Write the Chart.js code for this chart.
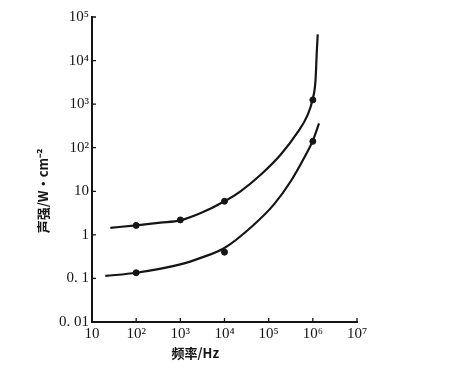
<!DOCTYPE html>
<html>
<head>
<meta charset="utf-8">
<script src="https://cdn.jsdelivr.net/npm/chart.js@4/dist/chart.umd.min.js"></script>
<style>
  html, body { margin: 0; padding: 0; background: #fff; }
  #wrap { width: 450px; height: 388px; }
</style>
</head>
<body>
<div id="wrap"><canvas id="chart"></canvas></div>
<script>
// axis ticks
const freqTicks = [10, 1e2, 1e3, 1e4, 1e5, 1e6, 1e7];
const freqTickLabels = ['10', '10²', '10³', '10⁴', '10⁵', '10⁶', '10⁷'];
const intensityTicks = [0.01, 0.1, 1, 10, 1e2, 1e3, 1e4, 1e5];
const intensityTickLabels = ['0. 01', '0. 1', '1', '10', '10²', '10³', '10⁴', '10⁵'];

// upper curve
const upperFreq = [26, 100, 355, 1000, 3000, 1e4, 2.3e4, 6.6e4, 1.86e5, 4.5e5, 7.6e5, 9.8e5, 1.15e6, 1.23e6, 1.29e6];
const upperValue = [1.45, 1.65, 1.9, 2.15, 3.2, 5.9, 10, 24, 69, 224, 560, 1250, 3500, 16000, 40000];
// lower curve
const lowerFreq = [20, 100, 1000, 3000, 1e4, 4.3e4, 1.32e5, 3.16e5, 6.6e5, 1e6, 1.38e6];
const lowerValue = [0.114, 0.135, 0.21, 0.3, 0.5, 1.6, 5, 17, 63, 145, 360];

// measured points
const upperPointFreq = [100, 1000, 1e4, 1e6];
const upperPointValue = [1.65, 2.2, 5.9, 1250];
const lowerPointFreq = [100, 1e4, 1e6];
const lowerPointValue = [0.135, 0.4, 140];

const toXY = (xs, ys) => xs.map((x, i) => ({x: x, y: ys[i]}));
const ink = '#151515';

// small ticks pointing into the plot
const inwardTicks = {
  id: 'inwardTicks',
  afterDraw(chart) {
    const {ctx, chartArea, scales} = chart;
    ctx.save();
    ctx.strokeStyle = ink;
    ctx.lineWidth = 1.3;
    ctx.beginPath();
    freqTicks.forEach(v => {
      const x = scales.x.getPixelForValue(v);
      ctx.moveTo(x, chartArea.bottom);
      ctx.lineTo(x, chartArea.bottom - 4);
    });
    intensityTicks.forEach(v => {
      const y = scales.y.getPixelForValue(v);
      ctx.moveTo(chartArea.left, y);
      ctx.lineTo(chartArea.left + 4, y);
    });
    ctx.stroke();
    ctx.restore();
  }
};

// axis titles, placed like the printed figure
const axisTitles = {
  id: 'axisTitles',
  afterDraw(chart) {
    const {ctx, chartArea} = chart;
    ctx.save();
    ctx.fillStyle = ink;
    ctx.textAlign = 'center';
    ctx.textBaseline = 'middle';
    ctx.font = 'bold 13px "Noto Sans CJK SC", "Liberation Serif", serif';
    ctx.fillText('频率/Hz', chartArea.left + chartArea.width * 0.39, chartArea.bottom + 31);
    ctx.translate(chartArea.left - 49, chartArea.top + chartArea.height * 0.57);
    ctx.rotate(-Math.PI / 2);
    ctx.fillText('声强/W·cm⁻²', 0, 0);
    ctx.restore();
  }
};

new Chart(document.getElementById('chart'), {
  type: 'scatter',
  data: {
    datasets: [
      {
        label: 'upper',
        data: toXY(upperFreq, upperValue),
        showLine: true,
        borderColor: ink,
        borderWidth: 2.2,
        pointRadius: 0,
        cubicInterpolationMode: 'monotone'
      },
      {
        label: 'lower',
        data: toXY(lowerFreq, lowerValue),
        showLine: true,
        borderColor: ink,
        borderWidth: 2.2,
        pointRadius: 0,
        cubicInterpolationMode: 'monotone'
      },
      {
        label: 'upper points',
        data: toXY(upperPointFreq, upperPointValue),
        pointRadius: 3,
        pointBackgroundColor: ink,
        pointBorderColor: ink
      },
      {
        label: 'lower points',
        data: toXY(lowerPointFreq, lowerPointValue),
        pointRadius: 3,
        pointBackgroundColor: ink,
        pointBorderColor: ink
      }
    ]
  },
  options: {
    responsive: true,
    maintainAspectRatio: false,
    animation: false,
    layout: { padding: { left: 0, top: 17, right: 93, bottom: 0 } },
    plugins: {
      legend: { display: false },
      tooltip: { enabled: false }
    },
    scales: {
      x: {
        type: 'logarithmic',
        min: 10,
        max: 1e7,
        afterBuildTicks: s => { s.ticks = freqTicks.map(v => ({value: v})); },
        afterFit: s => { s.height = 66; },
        grid: { display: false, drawTicks: false, tickLength: 0 },
        border: { display: true, color: ink, width: 2 },
        ticks: {
          color: ink,
          padding: 3,
          maxRotation: 0,
          autoSkip: false,
          font: { family: '"Liberation Serif", serif', size: 15 },
          callback: (v, i) => freqTickLabels[i]
        }
      },
      y: {
        type: 'logarithmic',
        min: 0.01,
        max: 1e5,
        afterBuildTicks: s => { s.ticks = intensityTicks.map(v => ({value: v})); },
        afterFit: s => { s.width = 92; },
        grid: { display: false, drawTicks: false, tickLength: 0 },
        border: { display: true, color: ink, width: 2 },
        ticks: {
          color: ink,
          padding: 3,
          autoSkip: false,
          font: { family: '"Liberation Serif", serif', size: 15 },
          callback: (v, i) => intensityTickLabels[i]
        }
      }
    }
  },
  plugins: [inwardTicks, axisTitles]
});
</script>
</body>
</html>
